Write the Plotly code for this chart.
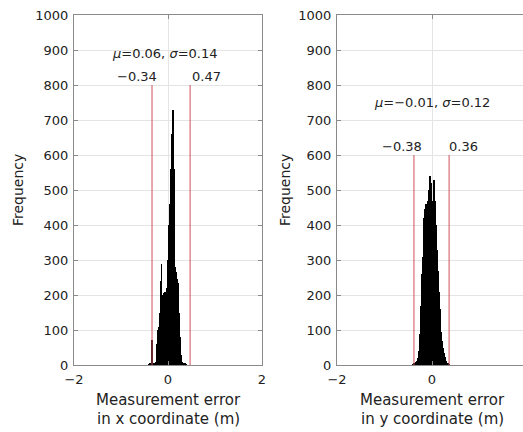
import plotly.graph_objects as go

# ---- data ----
x_bins_left = [-0.40, -0.38, -0.36, -0.34, -0.32, -0.30, -0.28, -0.26, -0.24, -0.22,
               -0.20, -0.18, -0.16, -0.14, -0.12, -0.10, -0.08, -0.06, -0.04, -0.02,
               0.00, 0.02, 0.04, 0.06, 0.08, 0.10, 0.12, 0.14, 0.16, 0.18,
               0.20, 0.22, 0.24, 0.26, 0.28, 0.30, 0.32, 0.34, 0.36, 0.38]
counts_left = [2, 4, 6, 72, 6, 4, 5, 10, 60, 100,
               110, 150, 240, 290, 200, 195, 205, 210, 210, 220,
               300, 400, 460, 560, 660, 728, 560, 380, 280, 265,
               245, 235, 150, 80, 30, 10, 5, 4, 3, 2]

x_bins_right = [-0.40, -0.38, -0.36, -0.34, -0.32, -0.30, -0.28, -0.26, -0.24, -0.22,
                -0.20, -0.18, -0.16, -0.14, -0.12, -0.10, -0.08, -0.06, -0.04, -0.02,
                0.00, 0.02, 0.04, 0.06, 0.08, 0.10, 0.12, 0.14, 0.16, 0.18,
                0.20, 0.22, 0.24, 0.26, 0.28, 0.30, 0.32, 0.34, 0.36]
counts_right = [2, 4, 6, 8, 12, 20, 40, 90, 170, 260,
                310, 370, 420, 445, 460, 440, 470, 500, 540, 520,
                450, 470, 530, 470, 400, 330, 270, 210, 160, 120,
                95, 70, 50, 35, 22, 12, 6, 3, 1]

bounds_left = [-0.34, 0.47]
bounds_right = [-0.38, 0.36]
bound_height_left = 800
bound_height_right = 600
stats_left = "<i>μ</i>=0.06, <i>σ</i>=0.14"
stats_right = "<i>μ</i>=−0.01, <i>σ</i>=0.12"
bound_labels_left = ["−0.34", "0.47"]
bound_labels_right = ["−0.38", "0.36"]
y_ticks = [0, 100, 200, 300, 400, 500, 600, 700, 800, 900, 1000]
x_ticks = [-2, 0, 2]
x_tick_labels = ["−2", "0", "2"]

FONT = "DejaVu Sans"
TXT = "#222222"
W, H = 523, 432

fig = go.Figure()

fig.add_trace(go.Bar(x=x_bins_left, y=counts_left, width=0.018, marker=dict(color="black", line=dict(width=0)),
                     xaxis="x", yaxis="y", showlegend=False))
fig.add_trace(go.Bar(x=x_bins_right, y=counts_right, width=0.018, marker=dict(color="black", line=dict(width=0)),
                     xaxis="x2", yaxis="y2", showlegend=False))

for b in bounds_left:
    fig.add_trace(go.Scatter(x=[b, b], y=[0, bound_height_left], mode="lines",
                             line=dict(color="#d0505a", width=1), xaxis="x", yaxis="y", showlegend=False))
for b in bounds_right:
    fig.add_trace(go.Scatter(x=[b, b], y=[0, bound_height_right], mode="lines",
                             line=dict(color="#d0505a", width=1), xaxis="x2", yaxis="y2", showlegend=False))

dom1 = [74 / W, 262 / W]
dom2 = [337 / W, 1.0]
ydom = [(H - 365) / H, (H - 15) / H]

axis_common = dict(showgrid=True, gridcolor="#e4e4e4", gridwidth=1, zeroline=False,
                   showline=True, linecolor="#8a8a8a", linewidth=1,
                   ticks="inside", ticklen=4, tickcolor="#8a8a8a", automargin=False,
                   tickfont=dict(family=FONT, size=13, color=TXT))

fig.update_layout(
    width=W, height=H, margin=dict(l=0, r=0, t=0, b=0, pad=0), autosize=False,
    paper_bgcolor="white", plot_bgcolor="white", bargap=0,
    font=dict(family=FONT, color=TXT),
    xaxis=dict(domain=dom1, range=[-2, 2], tickvals=x_ticks, ticktext=x_tick_labels,
               mirror="allticks", anchor="y", ticklabelstandoff=2, **axis_common),
    yaxis=dict(domain=ydom, range=[0, 1000], tickvals=y_ticks,
               mirror="allticks", anchor="x", ticklabelstandoff=2, **axis_common),
    xaxis2=dict(domain=dom2, range=[-2, (523 - 432) / 47.5], tickvals=x_ticks, ticktext=x_tick_labels,
                mirror="allticks", anchor="y2", ticklabelstandoff=2, **axis_common),
    yaxis2=dict(domain=ydom, range=[0, 1000], tickvals=y_ticks,
                mirror=False, anchor="x2", ticklabelstandoff=2, **axis_common),
)

ann = []
# stats text
ann.append(dict(x=-0.085, y=891, xref="x", yref="y", text=stats_left, showarrow=False,
                font=dict(family=FONT, size=13, color=TXT)))
ann.append(dict(x=0.0, y=749, xref="x2", yref="y2", text=stats_right, showarrow=False,
                font=dict(family=FONT, size=13, color=TXT)))
# bound labels
ann.append(dict(x=bounds_left[0], y=823, xref="x", yref="y", text=bound_labels_left[0], showarrow=False,
                xanchor="right", xshift=7, font=dict(family=FONT, size=13, color=TXT)))
ann.append(dict(x=bounds_left[1], y=823, xref="x", yref="y", text=bound_labels_left[1], showarrow=False,
                xanchor="left", xshift=0, font=dict(family=FONT, size=13, color=TXT)))
ann.append(dict(x=bounds_right[0], y=623, xref="x2", yref="y2", text=bound_labels_right[0], showarrow=False,
                xanchor="right", xshift=10, font=dict(family=FONT, size=13, color=TXT)))
ann.append(dict(x=bounds_right[1], y=623, xref="x2", yref="y2", text=bound_labels_right[1], showarrow=False,
                xanchor="left", xshift=-2, font=dict(family=FONT, size=13, color=TXT)))
# axis titles
for xc, yc in [(18, 190), (285, 190)]:
    ann.append(dict(x=xc / W, y=1 - yc / H, xref="paper", yref="paper", text="Frequency", textangle=-90,
                    xanchor="center", yanchor="middle",
                    showarrow=False, font=dict(family=FONT, size=14, color=TXT)))
for xc, lab in [(168, "x"), (432, "y")]:
    ann.append(dict(x=xc / W, y=1 - 400 / H, xref="paper", yref="paper", text="Measurement error",
                    xanchor="center", yanchor="middle",
                    showarrow=False, font=dict(family=FONT, size=15, color=TXT)))
    ann.append(dict(x=xc / W, y=1 - 419 / H, xref="paper", yref="paper", text=f"in {lab} coordinate (m)",
                    xanchor="center", yanchor="middle",
                    showarrow=False, font=dict(family=FONT, size=15, color=TXT)))
fig.update_layout(annotations=ann)

fig.write_html("out.html", post_script="document.body.style.margin='0';document.body.style.overflow='hidden';")
